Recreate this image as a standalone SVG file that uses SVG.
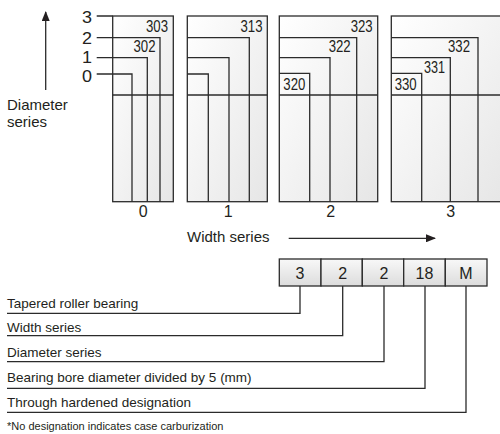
<svg xmlns="http://www.w3.org/2000/svg" width="500" height="434" viewBox="0 0 500 434">
<style>
.t{font-family:"Liberation Sans",Arial,sans-serif;fill:#231f20}
.big{font-size:16.5px}
.lab{font-size:16px}
.txt{font-size:13.5px}
.ax{font-size:15px}
.ln{stroke:#2b2b2b;stroke-width:1.3;fill:none}
.blk{fill:url(#g1);stroke:#2b2b2b;stroke-width:1.3}
.box{fill:url(#g2);stroke:#2b2b2b;stroke-width:1.3}
</style>
<defs>
<linearGradient id="g1" x1="0" y1="0" x2="1" y2="1"><stop offset="0" stop-color="#ffffff"/><stop offset="1" stop-color="#e6e6e6"/></linearGradient>
<linearGradient id="g2" x1="0" y1="0" x2="0" y2="1"><stop offset="0" stop-color="#f8f8f8"/><stop offset="1" stop-color="#dcdcdc"/></linearGradient>
<marker id="ah" markerWidth="10" markerHeight="8" refX="9" refY="4" orient="auto" markerUnits="userSpaceOnUse"><path d="M0,0 L10,4 L0,8 Z" fill="#231f20"/></marker>
</defs>

<g id="diameter-axis">
<line class="ln" x1="45.7" y1="90" x2="45.7" y2="12" marker-end="url(#ah)"/>
<text class="t ax" x="7" y="110">Diameter</text>
<text class="t ax" x="7" y="127">series</text>
</g>

<g id="level-labels">
<text class="t big" x="82" y="22.5" textLength="10" lengthAdjust="spacingAndGlyphs">3</text>
<text class="t big" x="82" y="43.5" textLength="10" lengthAdjust="spacingAndGlyphs">2</text>
<text class="t big" x="82" y="62.5" textLength="10" lengthAdjust="spacingAndGlyphs">1</text>
<text class="t big" x="82" y="81.5" textLength="10" lengthAdjust="spacingAndGlyphs">0</text>
</g>

<g id="block-0">
<rect class="blk" x="112.7" y="16" width="60.6" height="185.7"/>
<line class="ln" x1="112.7" y1="95" x2="173.3" y2="95"/>
<text class="t lab" x="168" y="32" text-anchor="end" textLength="22" lengthAdjust="spacingAndGlyphs">303</text>
<text class="t lab" x="155.5" y="52" text-anchor="end" textLength="22" lengthAdjust="spacingAndGlyphs">302</text>
<text class="t lab" x="143.3" y="217" text-anchor="middle">0</text>
</g>
<g id="block-1">
<rect class="blk" x="187.3" y="16" width="80" height="185.7"/>
<line class="ln" x1="187.3" y1="95" x2="267.3" y2="95"/>
<path class="ln" d="M187.3,37.7 H249.3 V201.7 M187.3,57.7 H229 V201.7 M187.3,74 H208.3 V201.7"/>
<text class="t lab" x="262.5" y="32" text-anchor="end" textLength="22" lengthAdjust="spacingAndGlyphs">313</text>
<text class="t lab" x="228.3" y="217" text-anchor="middle">1</text>
</g>
<g id="block-2">
<rect class="blk" x="279.3" y="16" width="98.4" height="185.7"/>
<line class="ln" x1="279.3" y1="95" x2="377.7" y2="95"/>
<path class="ln" d="M279.3,37.7 H356.7 V201.7 M279.3,57.7 H330 V201.7 M279.3,73.3 H309.7 V201.7"/>
<text class="t lab" x="372.7" y="32" text-anchor="end" textLength="22" lengthAdjust="spacingAndGlyphs">323</text>
<text class="t lab" x="350.7" y="52" text-anchor="end" textLength="22" lengthAdjust="spacingAndGlyphs">322</text>
<text class="t lab" x="283.3" y="90" textLength="22" lengthAdjust="spacingAndGlyphs">320</text>
<text class="t lab" x="330.7" y="217" text-anchor="middle">2</text>
</g>
<g id="block-3">
<rect class="blk" x="391.3" y="16" width="115" height="185.7"/>
<line class="ln" x1="391.3" y1="95" x2="506" y2="95"/>
<path class="ln" d="M391.3,37.7 H478 V201.7 M391.3,57.7 H450.3 V201.7 M391.3,73.3 H421.7 V201.7"/>
<text class="t lab" x="470" y="52" text-anchor="end" textLength="22" lengthAdjust="spacingAndGlyphs">332</text>
<text class="t lab" x="445" y="73" text-anchor="end" textLength="21" lengthAdjust="spacingAndGlyphs">331</text>
<text class="t lab" x="394.7" y="90" textLength="22" lengthAdjust="spacingAndGlyphs">330</text>
<text class="t lab" x="450.7" y="217" text-anchor="middle">3</text>
</g>

<g id="connectors">
<path class="ln" d="M96.7,16 H112.7 M96.7,37.7 H160 V201.7 M96.7,57.7 H147.3 V201.7 M96.7,74 H132 V201.7"/>
<line class="ln" x1="288.7" y1="238.3" x2="435" y2="238.3" marker-end="url(#ah)"/>
<path class="ln" d="M300,286 V313.3 H7 M342.7,286 V335.7 H7 M384,286 V361.7 H7 M425,286 V388.3 H7 M466,286 V412.3 H7"/>
</g>

<g id="width-axis">
<text class="t ax" x="187" y="242">Width series</text>
</g>

<g id="code-boxes">
<rect class="box" x="279.3" y="259" width="41.7" height="27"/>
<rect class="box" x="321" y="259" width="41.3" height="27"/>
<rect class="box" x="362.3" y="259" width="41.4" height="27"/>
<rect class="box" x="403.7" y="259" width="41.6" height="27"/>
<rect class="box" x="445.3" y="259" width="41.7" height="27"/>
<text class="t" font-size="16" x="300" y="279" text-anchor="middle">3</text>
<text class="t" font-size="16" x="342.7" y="279" text-anchor="middle">2</text>
<text class="t" font-size="16" x="384" y="279" text-anchor="middle">2</text>
<text class="t" font-size="16" x="424.5" y="279" text-anchor="middle">18</text>
<text class="t" font-size="16" x="466" y="279" text-anchor="middle">M</text>
</g>

<g id="legend">
<text class="t txt" x="7" y="307.5">Tapered roller bearing</text>
<text class="t txt" x="7" y="331.5">Width series</text>
<text class="t txt" x="7" y="356.5">Diameter series</text>
<text class="t txt" x="7" y="382">Bearing bore diameter divided by 5 (mm)</text>
<text class="t txt" x="7" y="406.5">Through hardened designation</text>
<text class="t" x="7" y="430" font-size="11">*No designation indicates case carburization</text>
</g>
</svg>
